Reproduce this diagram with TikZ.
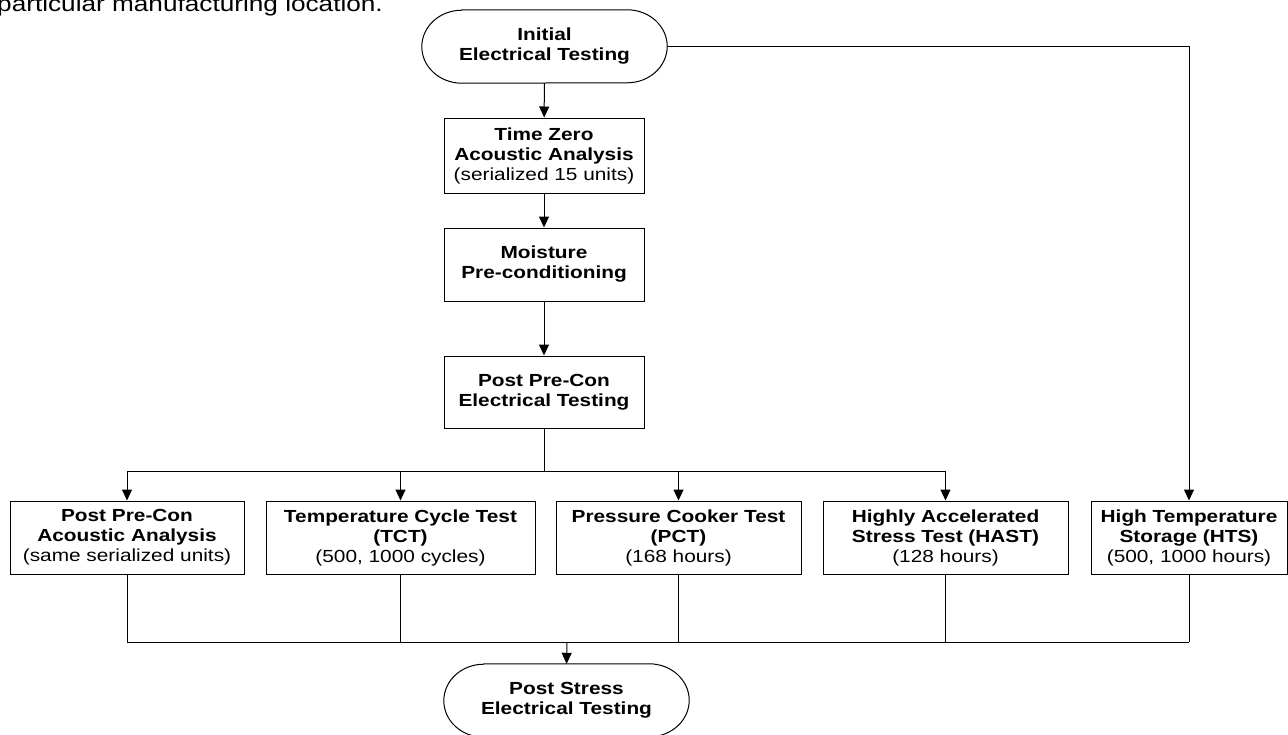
\documentclass[tikz,border=0pt]{standalone}
\usepackage{fontspec}
\setmainfont{Liberation Sans}[FakeStretch=1.19]
\usetikzlibrary{arrows.meta}
\begin{document}
\begin{tikzpicture}[x=1pt,y=-1pt,
  every node/.style={font=\fontsize{17.5}{20}\selectfont, align=center, inner sep=0pt},
  box/.style={draw=black, line width=1pt, rectangle, minimum height=73pt},
  term/.style={rectangle, minimum height=73pt},
  wire/.style={draw=black, line width=1pt},
  arr/.style={wire, -{Triangle[width=10pt,length=11pt]}}
]
\useasboundingbox (0,0) rectangle (1288,734);

\node[anchor=base west, font=\fontsize{22}{26}\selectfont] (cap) at (-3,11) {particular manufacturing location.};

\node[term, minimum width=245pt] (init) at (544.5,46.5) {\textbf{Initial}\\\textbf{Electrical Testing}};
\node[box, minimum width=200pt, minimum height=75pt] (tz) at (544,155.5) {\textbf{Time Zero}\\\textbf{Acoustic Analysis}\\(serialized 15 units)};
\node[box, minimum width=200pt] (moist) at (544,264.5) {\textbf{Moisture}\\\textbf{Pre-conditioning}};
\node[box, minimum width=200pt, minimum height=72pt] (ppc) at (544,392) {\textbf{Post Pre-Con}\\\textbf{Electrical Testing}};

\node[box, minimum width=234pt] (b1) at (127,537.5) {\textbf{Post Pre-Con}\\\textbf{Acoustic Analysis}\\(same serialized units)};
\node[box, minimum width=269pt] (b2) at (400.5,537.5) {\textbf{Temperature Cycle Test}\\\textbf{(TCT)}\\(500, 1000 cycles)};
\node[box, minimum width=245pt] (b3) at (678.5,537.5) {\textbf{Pressure Cooker Test}\\\textbf{(PCT)}\\(168 hours)};
\node[box, minimum width=245pt] (b4) at (945.5,537.5) {\textbf{Highly Accelerated}\\\textbf{Stress Test (HAST)}\\(128 hours)};
\node[box, minimum width=196pt] (b5) at (1189,537.5) {\textbf{High Temperature}\\\textbf{Storage (HTS)}\\(500, 1000 hours)};

\node[term, minimum width=245pt] (fin) at (566.5,700.5) {\textbf{Post Stress}\\\textbf{Electrical Testing}};

% terminator outlines with elliptical ends
\foreach \t in {init,fin} {
  \draw[wire] ([xshift=40pt]\t.north west) -- ([xshift=-40pt]\t.north east)
    arc[start angle=90, end angle=-90, x radius=40pt, y radius=36.5pt]
    -- ([xshift=40pt]\t.south west)
    arc[start angle=270, end angle=90, x radius=40pt, y radius=36.5pt] -- cycle;
}

\coordinate (bus1) at (544,471);
\coordinate (bus2) at (567,642);
\coordinate (corner) at (1189,46.5);

\draw[arr] (init) -- (tz);
\draw[arr] (tz) -- (moist);
\draw[arr] (moist) -- (ppc);
\draw[wire] (ppc.south) -- (bus1);
\draw[wire] (b1.north |- bus1) -- (b4.north |- bus1);
\foreach \b in {b1,b2,b3,b4} { \draw[arr] (\b.north |- bus1) -- (\b.north); }
\draw[arr] (init.east) -- (corner) -- (b5.north);

\foreach \b in {b1,b2,b3,b4,b5} { \draw[wire] (\b.south) -- (\b.south |- bus2); }
\draw[wire] (b1.south |- bus2) -- (b5.south |- bus2);
\draw[arr] (bus2) -- (fin.north);
\end{tikzpicture}
\end{document}
